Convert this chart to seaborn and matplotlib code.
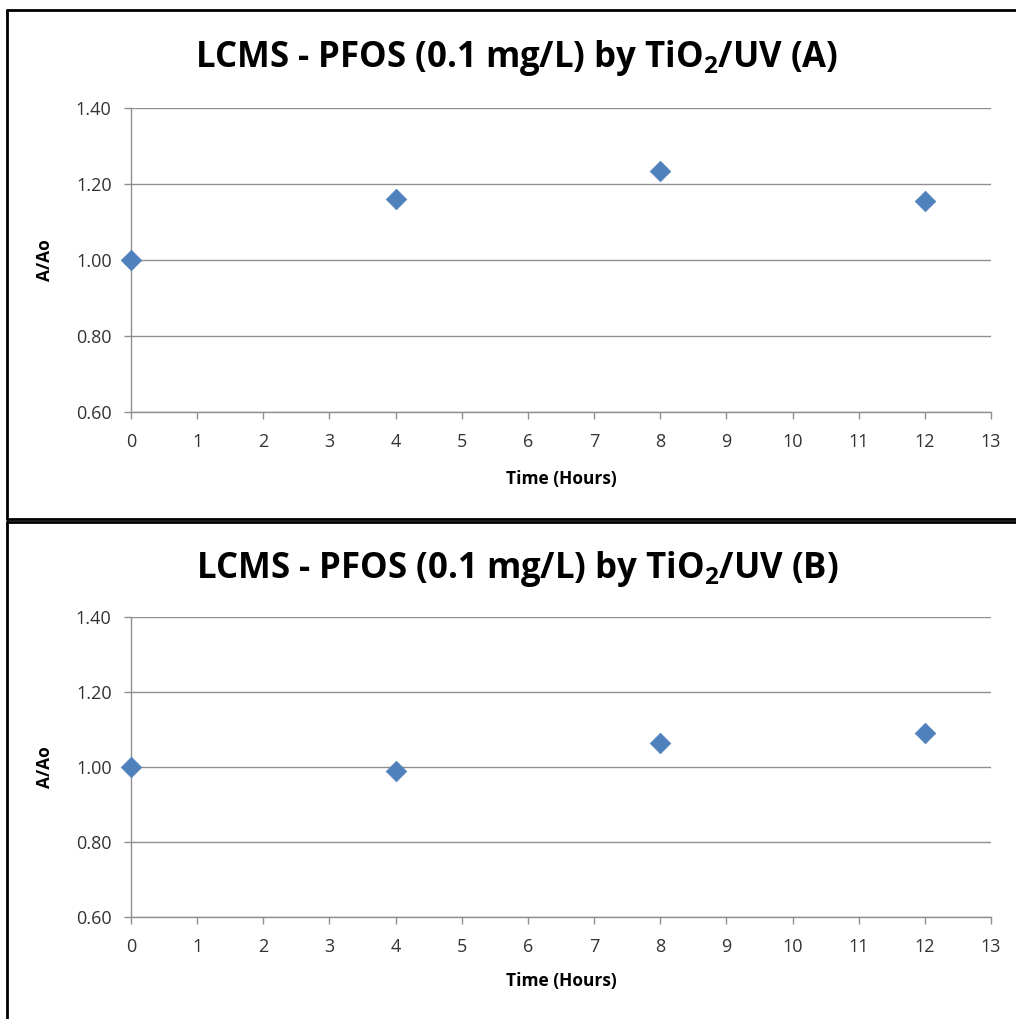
import matplotlib
matplotlib.use("Agg")
import matplotlib.pyplot as plt
import seaborn as sns
import pandas as pd
from matplotlib.lines import Line2D

# Data
time_hours = [0, 4, 8, 12]
ratio_a = [1.00, 1.16, 1.234, 1.155]
ratio_b = [1.00, 0.989, 1.064, 1.092]
titles = ["LCMS - PFOS (0.1 mg/L) by TiO$_\\mathregular{2}$/UV (A)",
          "LCMS - PFOS (0.1 mg/L) by TiO$_\\mathregular{2}$/UV (B)"]
x_label = "Time (Hours)"
y_label = "A/Ao"
x_ticks = list(range(0, 14))
y_ticks = [0.60, 0.80, 1.00, 1.20, 1.40]

sns.set_style("white")
plt.rcParams['font.family'] = ['Open Sans', 'DejaVu Sans']
plt.rcParams['mathtext.fontset'] = 'custom'
plt.rcParams['mathtext.rm'] = 'Open Sans:bold'

W, H = 1016, 1019
fig = plt.figure(figsize=(W / 100, H / 100), dpi=100)

grid_col = "#8f8f8f"
blue = "#4F81BD"

panels = [
    dict(top=108, bottom=412, vals=ratio_a, title=titles[0], title_y=58, ylab_y=260, xlab_y=479),
    dict(top=617, bottom=917, vals=ratio_b, title=titles[1], title_y=569, ylab_y=767, xlab_y=981),
]
left, right = 131, 991

for p in panels:
    ax = fig.add_axes([left / W, 1 - p["bottom"] / H, (right - left) / W, (p["bottom"] - p["top"]) / H])
    df = pd.DataFrame({"t": time_hours, "r": p["vals"]})
    sns.scatterplot(data=df, x="t", y="r", ax=ax, marker="D", s=110, color=blue,
                    edgecolor=blue, linewidth=0.5, zorder=3, clip_on=False)
    ax.set_xlim(0, 13)
    ax.set_ylim(0.60, 1.40)
    ax.set_xticks(x_ticks)
    ax.set_xticklabels([str(v) for v in x_ticks])
    ax.set_yticks(y_ticks)
    ax.set_yticklabels([f"{v:.2f}" for v in y_ticks])
    ax.grid(axis="y", color=grid_col, linewidth=1.0)
    ax.grid(axis="x", visible=False)
    for s in ["top", "right"]:
        ax.spines[s].set_visible(False)
    for s in ["left", "bottom"]:
        ax.spines[s].set_color(grid_col)
        ax.spines[s].set_linewidth(1.0)
    ax.tick_params(axis="both", direction="out", length=5, width=1.0, color=grid_col,
                   labelsize=13, labelcolor="#333333", left=True, bottom=True)
    ax.tick_params(axis="x", pad=10)
    ax.tick_params(axis="y", pad=9)
    ax.set_xlabel("")
    ax.set_ylabel("")
    fig.text(0.509, 1 - p["title_y"] / H, p["title"], ha="center", va="center",
             fontsize=25, fontweight="bold", color="black")
    fig.text(45 / W, 1 - p["ylab_y"] / H, y_label, ha="center", va="center", rotation=90,
             fontsize=12.5, fontweight="bold", color="black")
    fig.text(561 / W, 1 - p["xlab_y"] / H, x_label, ha="center", va="center",
             fontsize=12.5, fontweight="bold", color="black")

# chart frames
def hline(y, x0, x1, lw=2):
    fig.add_artist(Line2D([x0 / W, x1 / W], [1 - y / H, 1 - y / H], color="black", linewidth=lw))

def vline(x, y0, y1, lw=2):
    fig.add_artist(Line2D([x / W, x / W], [1 - y0 / H, 1 - y1 / H], color="black", linewidth=lw))

hline(10, 7, W)
hline(519, 7, W)
vline(7, 10, 519)
hline(522, 7, W)
vline(7, 522, H)

fig.savefig("out.png", dpi=100, facecolor="white")
